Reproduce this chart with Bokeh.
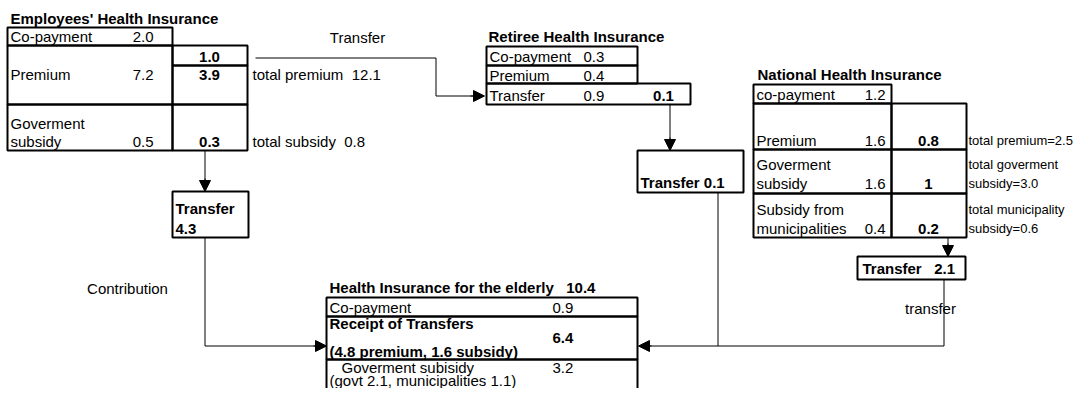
from bokeh.plotting import figure
from bokeh.models import Range1d, Arrow, NormalHead, ColumnDataSource
from bokeh.core.properties import value
from bokeh.embed import file_html
from bokeh.resources import INLINE

# ---------------- DATA ----------------
emp_rows = ["Co-payment", "Premium", "Goverment\nsubsidy"]
emp_values = [2.0, 7.2, 0.5]
emp_outflows = [1.0, 3.9, 0.3]
emp_total_premium = 12.1
emp_total_subsidy = 0.8
emp_transfer = 4.3

ret_rows = ["Co-payment", "Premium", "Transfer"]
ret_values = [0.3, 0.4, 0.9]
ret_outflow = 0.1
ret_transfer = 0.1

nhi_rows = ["co-payment", "Premium", "Goverment\nsubsidy", "Subsidy from\nmunicipalities"]
nhi_values = [1.2, 1.6, 1.6, 0.4]
nhi_outflows = ["0.8", "1", "0.2"]
nhi_totals_labels = ["total premium=", "total goverment\nsubsidy=", "total municipality\nsubsidy="]
nhi_totals = [2.5, 3.0, 0.6]
nhi_transfer = 2.1

eld_total = 10.4
eld_copay = 0.9
eld_receipt = 6.4
eld_receipt_premium = 4.8
eld_receipt_subsidy = 1.6
eld_gov = 3.2
eld_gov_govt = 2.1
eld_gov_muni = 1.1

FONT = "Liberation Sans"
FS = "15px"
NB = "\u00a0"
TEXT_DY = -5  # renderer draws text ~5px lower than the requested baseline

def f1(v):
    return f"{v:.1f}"

W, H = 1074, 388
p = figure(width=W, height=H, output_backend="svg", toolbar_location=None,
           x_range=Range1d(0, W), y_range=Range1d(H, 0),
           min_border=0, min_border_left=0, min_border_right=0,
           min_border_top=0, min_border_bottom=0)
p.xaxis.visible = False
p.yaxis.visible = False
p.grid.visible = False
p.outline_line_color = None
p.background_fill_color = "white"
p.border_fill_color = "white"

# ---------------- BOXES ----------------
boxes = [
    # Employees
    (7, 172, 27, 45), (7, 172, 45, 104), (7, 172, 104, 150),
    (172, 247, 45, 65), (172, 247, 65, 104), (172, 247, 104, 150),
    # Transfer 4.3
    (172, 248, 191, 237),
    # Retiree
    (486, 637, 46, 65), (486, 637, 65, 83), (486, 690, 83, 104),
    # Transfer 0.1
    (637, 743, 150, 192),
    # NHI
    (753, 891, 84, 103), (753, 891, 103, 149), (891, 966, 103, 149),
    (753, 891, 149, 193), (891, 966, 149, 193),
    (753, 891, 193, 237), (891, 966, 193, 237),
    # Transfer 2.1
    (857, 965, 256, 279),
    # Elderly
    (326, 637, 297, 316), (326, 637, 316, 359), (326, 637, 359, 440),
]
p.quad(left=[b[0] for b in boxes], right=[b[1] for b in boxes],
       top=[b[2] for b in boxes], bottom=[b[3] for b in boxes],
       fill_color=None, line_color="black", line_width=2)

# ---------------- CONNECTORS ----------------
YA = 345.5
paths = [
    ([255, 435.5, 435.5, 473], [57.5, 57.5, 95.5, 95.5]),
    ([204.5, 204.5], [150, 181]),
    ([204.5, 204.5, 316], [237, YA, YA]),
    ([669.5, 669.5], [104, 140]),
    ([947.5, 947.5], [237, 247]),
    ([717.5, 717.5], [192, YA]),
    ([943.5, 943.5, 648], [279, YA, YA]),
]
p.multi_line(xs=[q[0] for q in paths], ys=[q[1] for q in paths],
             line_color="black", line_width=1)

heads = [
    ((470, 95.5), (484, 95.5)),
    ((204.5, 178), (204.5, 191)),
    ((313, YA), (326, YA)),
    ((669.5, 137), (669.5, 150)),
    ((947.5, 243), (947.5, 256)),
    ((651, YA), (638, YA)),
]
for (x0, y0), (x1, y1) in heads:
    p.add_layout(Arrow(x_start=x0, y_start=y0, x_end=x1, y_end=y1,
                       line_width=1, line_color="black",
                       end=NormalHead(size=11, fill_color="black", line_color="black", line_width=1)))

# ---------------- TEXTS ----------------
T = []  # (x, y, text, align, bold, size)
def add(x, y, t, align="left", bold=False, size=FS):
    T.append((x, y + TEXT_DY, t, align, bold, size))

# Employees
add(10, 23, "Employees' Health Insurance", bold=True)
add(10, 41, emp_rows[0]); add(153, 41, f1(emp_values[0]), "right")
add(209, 61, f1(emp_outflows[0]), "center", True)
add(10, 79, emp_rows[1]); add(153, 79, f1(emp_values[1]), "right")
add(209, 79, f1(emp_outflows[1]), "center", True)
add(252, 79, f"total premium{NB} {f1(emp_total_premium)}")
l1, l2 = emp_rows[2].split("\n")
add(10, 128, l1); add(10, 146, l2); add(153, 146, f1(emp_values[2]), "right")
add(209, 146, f1(emp_outflows[2]), "center", True)
add(252, 146, f"total subsidy{NB} {f1(emp_total_subsidy)}")
add(357, 42, "Transfer", "center")
add(175, 213, "Transfer", bold=True)
add(175, 233, f1(emp_transfer), bold=True)
add(127, 293, "Contribution", "center")

# Retiree
add(488, 41, "Retiree Health Insurance", bold=True)
for lab, v, yy in zip(ret_rows, ret_values, [61, 80, 100]):
    add(489, yy, lab); add(583, yy, f1(v))
add(663, 100, f1(ret_outflow), "center", True)
add(640, 187, f"Transfer {f1(ret_transfer)}", bold=True)

# NHI
add(757, 79, "National Health Insurance", bold=True)
add(756, 99, nhi_rows[0]); add(885, 99, f1(nhi_values[0]), "right")
row_base = [145, 188, 233]
for i in range(3):
    lab = nhi_rows[i + 1].split("\n")
    yb = row_base[i]
    if len(lab) == 2:
        add(756, yb - 19, lab[0]); add(756, yb, lab[1])
    else:
        add(756, yb, lab[0])
    add(885, yb, f1(nhi_values[i + 1]), "right")
    add(928, yb, nhi_outflows[i], "center", True)
    tl = nhi_totals_labels[i].split("\n")
    if len(tl) == 2:
        add(968, yb - 19, tl[0], size="13px"); add(968, yb, tl[1] + f1(nhi_totals[i]), size="13px")
    else:
        add(968, yb, tl[0] + f1(nhi_totals[i]), size="13px")
add(862, 273, f"Transfer{NB}{NB} {f1(nhi_transfer)}", bold=True)
add(930, 313, "transfer", "center")

# Elderly
add(329, 292, f"Health Insurance for the elderly{NB}{NB} {f1(eld_total)}", bold=True)
add(329, 312, "Co-payment"); add(552, 312, f1(eld_copay))
add(329, 328, "Receipt of Transfers", bold=True)
add(552, 342, f1(eld_receipt), bold=True)
add(329, 356, f"({f1(eld_receipt_premium)} premium, {f1(eld_receipt_subsidy)} subsidy)", bold=True)
add(341, 372, "Goverment subisidy"); add(552, 372, f1(eld_gov))
add(329, 385, f"(govt {f1(eld_gov_govt)}, municipalities {f1(eld_gov_muni)})")

groups = {}
for t in T:
    groups.setdefault((t[3], t[4], t[5]), []).append(t)
for (align, bold, size), sel in groups.items():
    src = ColumnDataSource(dict(x=[t[0] for t in sel], y=[t[1] for t in sel],
                                text=[t[2] for t in sel]))
    p.text(x="x", y="y", text="text", source=src,
           text_font=value(FONT), text_font_size=size,
           text_font_style="bold" if bold else "normal",
           text_align=align, text_baseline="alphabetic", text_color="black")

open("out.html", "w").write(file_html(p, INLINE))
